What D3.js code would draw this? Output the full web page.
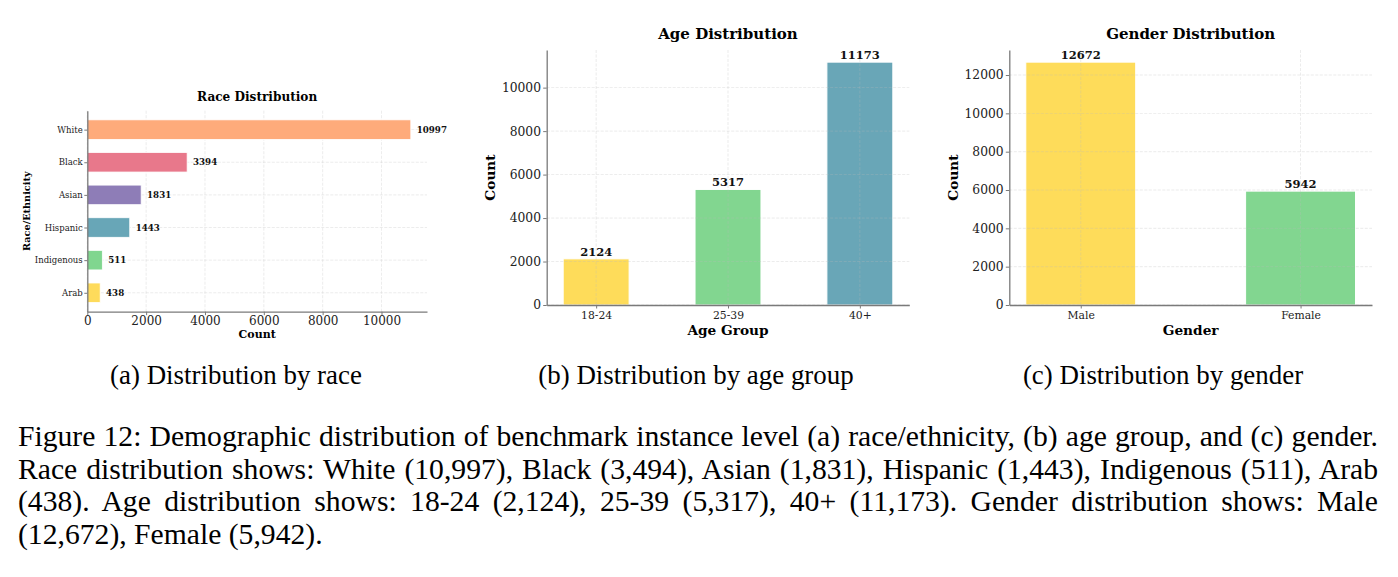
<!DOCTYPE html>
<html>
<head>
<meta charset="utf-8">
<script src="https://cdn.jsdelivr.net/npm/d3@7"></script>
<style>
  body { margin: 0; background: #fff; }
  svg { display: block; }
</style>
</head>
<body>
<script>
// data
const raceCategories = ["White", "Black", "Asian", "Hispanic", "Indigenous", "Arab"]
const raceCounts = [10997, 3394, 1831, 1443, 511, 438]
const raceTicks = [0, 2000, 4000, 6000, 8000, 10000]

const ageGroups = ["18-24", "25-39", "40+"]
const ageCounts = [2124, 5317, 11173]
const ageTicks = [0, 2000, 4000, 6000, 8000, 10000]

const genderCategories = ["Male", "Female"]
const genderCounts = [12672, 5942]
const genderTicks = [0, 2000, 4000, 6000, 8000, 10000, 12000]

// colours
const raceColours = ["#FEAB7B", "#E8788B", "#8E7DB7", "#68A6B7", "#80D68F", "#FEDB5B"]
const ageColours = ["#FEDC5A", "#82D690", "#69A6B7"]
const genderColours = ["#FEDC5A", "#82D690"]

const captionLines = [
  "Figure 12: Demographic distribution of benchmark instance level (a) race/ethnicity, (b) age group, and (c) gender.",
  "Race distribution shows: White (10,997), Black (3,494), Asian (1,831), Hispanic (1,443), Indigenous (511), Arab",
  "(438).  Age distribution shows: 18-24 (2,124), 25-39 (5,317), 40+ (11,173).  Gender distribution shows: Male",
  "(12,672), Female (5,942)."
]
const subCaptions = ["(a) Distribution by race", "(b) Distribution by age group", "(c) Distribution by gender"]

const svg = d3.select("body").append("svg").attr("width", 1398).attr("height", 577)
const serif = "DejaVu Serif"
const times = "'Liberation Serif', 'Times New Roman', serif"
const spine = "#7a7a7a"
const plain = d3.format("d")

// little helper to make axes look like the matplotlib ones
function styleAxis(g, size) {
  g.attr("font-family", serif).attr("font-size", size)
  g.select(".domain").attr("stroke", spine).attr("stroke-width", 1.3)
  g.selectAll(".tick line").attr("stroke", spine).attr("stroke-width", 1)
  g.selectAll(".tick text").attr("fill", "#222")
}

// ---------- (a) race, horizontal bars ----------
const ra = {left: 87.3, right: 427, top: 110.7, bottom: 311.7}
const raceX = d3.scaleLinear().domain([0, d3.max(raceCounts) * 1.05]).range([ra.left, ra.right])
const raceY = d3.scaleLinear().domain([-0.58, raceCategories.length - 1 + 0.58]).range([ra.top, ra.bottom])
const raceG = svg.append("g")

// grid
raceG.selectAll(".vgrid").data(raceTicks).enter().append("line")
  .attr("x1", d => raceX(d)).attr("x2", d => raceX(d)).attr("y1", ra.top).attr("y2", ra.bottom)
  .attr("stroke", "#ccc").attr("stroke-width", 0.7).attr("stroke-dasharray", "3,1.5").attr("opacity", 0.5)
raceG.selectAll(".hgrid").data(raceCategories).enter().append("line")
  .attr("x1", ra.left).attr("x2", ra.right).attr("y1", (d, i) => raceY(i)).attr("y2", (d, i) => raceY(i))
  .attr("stroke", "#ccc").attr("stroke-width", 0.7).attr("stroke-dasharray", "3,1.5").attr("opacity", 0.5)

const bandA = raceY(0.3) - raceY(-0.3)
raceG.selectAll("rect").data(raceCounts).enter().append("rect")
  .attr("x", raceX(0)).attr("y", (d, i) => raceY(i) - bandA / 2)
  .attr("width", d => raceX(d) - raceX(0)).attr("height", bandA)
  .attr("fill", (d, i) => raceColours[i]).attr("stroke", "#fff").attr("stroke-width", 0.8)

raceG.selectAll(".val").data(raceCounts).enter().append("text")
  .attr("x", d => raceX(d + 200)).attr("y", (d, i) => raceY(i)).attr("dy", "0.35em")
  .text(d => d).attr("font-family", serif).attr("font-weight", "bold").attr("font-size", 8.7).attr("fill", "#111")

const raceXAxis = raceG.append("g").attr("transform", `translate(0,${ra.bottom})`)
  .call(d3.axisBottom(raceX).tickValues(raceTicks).tickFormat(plain).tickSize(3.5).tickSizeOuter(0).tickPadding(1))
styleAxis(raceXAxis, 12)
const raceYAxis = raceG.append("g").attr("transform", `translate(${ra.left},0)`)
  .call(d3.axisLeft(raceY).tickValues(d3.range(raceCategories.length)).tickFormat(i => raceCategories[i])
    .tickSize(3).tickSizeOuter(0).tickPadding(1.6))
styleAxis(raceYAxis, 8.5)

raceG.append("text").attr("x", (ra.left + ra.right) / 2).attr("y", 101).attr("text-anchor", "middle")
  .text("Race Distribution").attr("font-family", serif).attr("font-weight", "bold").attr("font-size", 12.1)
raceG.append("text").attr("x", (ra.left + ra.right) / 2).attr("y", 337.5).attr("text-anchor", "middle")
  .text("Count").attr("font-family", serif).attr("font-weight", "bold").attr("font-size", 11)
raceG.append("text").attr("transform", `translate(30,${(ra.top + ra.bottom) / 2}) rotate(-90)`).attr("text-anchor", "middle")
  .text("Race/Ethnicity").attr("font-family", serif).attr("font-weight", "bold").attr("font-size", 9.7)

// ---------- vertical bar panels (b) and (c) ----------
function drawColumns(box, cats, counts, ticks, colours, title, xlabel) {
  const g = svg.append("g")
  const n = cats.length
  const pad = (n - 0.5) * 0.05
  const x = d3.scaleLinear().domain([-0.25 - pad, n - 0.75 + pad]).range([box.left, box.right])
  const y = d3.scaleLinear().domain([0, d3.max(counts) * 1.05]).range([box.bottom, box.top])

  const bw = x(0.5) - x(0)
  g.selectAll("rect").data(counts).enter().append("rect")
    .attr("x", (d, i) => x(i) - bw / 2).attr("y", d => y(d))
    .attr("width", bw).attr("height", d => y(0) - y(d))
    .attr("fill", (d, i) => colours[i]).attr("stroke", "#fff").attr("stroke-width", 1)

  // grid sits over the bars, very faint
  g.selectAll(".hgrid").data(ticks).enter().append("line")
    .attr("x1", box.left).attr("x2", box.right).attr("y1", d => y(d)).attr("y2", d => y(d))
    .attr("stroke", "#bbb").attr("stroke-width", 0.7).attr("stroke-dasharray", "3,1.5").attr("opacity", 0.4)
  g.selectAll(".vgrid").data(cats).enter().append("line")
    .attr("x1", (d, i) => x(i)).attr("x2", (d, i) => x(i)).attr("y1", box.top).attr("y2", box.bottom)
    .attr("stroke", "#bbb").attr("stroke-width", 0.7).attr("stroke-dasharray", "3,1.5").attr("opacity", 0.4)

  g.selectAll(".val").data(counts).enter().append("text")
    .attr("x", (d, i) => x(i)).attr("y", d => y(d) - 3).attr("text-anchor", "middle")
    .text(d => d).attr("font-family", serif).attr("font-weight", "bold").attr("font-size", 11.5).attr("fill", "#111")

  const xa = g.append("g").attr("transform", `translate(0,${box.bottom})`)
    .call(d3.axisBottom(x).tickValues(d3.range(n)).tickFormat(i => cats[i]).tickSize(3.5).tickSizeOuter(0).tickPadding(2.5))
  styleAxis(xa, 10.8)
  const ya = g.append("g").attr("transform", `translate(${box.left},0)`)
    .call(d3.axisLeft(y).tickValues(ticks).tickFormat(plain).tickSize(3.5).tickSizeOuter(0).tickPadding(2.2))
  styleAxis(ya, 12.3)

  const cx = (box.left + box.right) / 2
  g.append("text").attr("x", cx).attr("y", 38.5).attr("text-anchor", "middle")
    .text(title).attr("font-family", serif).attr("font-weight", "bold").attr("font-size", 15)
  g.append("text").attr("x", cx).attr("y", 335).attr("text-anchor", "middle")
    .text(xlabel).attr("font-family", serif).attr("font-weight", "bold").attr("font-size", 13.7)
  g.append("text").attr("transform", `translate(${box.left - 56},${(box.top + box.bottom) / 2}) rotate(-90)`)
    .attr("text-anchor", "middle").attr("dy", "0.35em")
    .text("Count").attr("font-family", serif).attr("font-weight", "bold").attr("font-size", 13.7)
}

drawColumns({left: 546.7, right: 909.3, top: 50, bottom: 305}, ageGroups, ageCounts, ageTicks, ageColours, "Age Distribution", "Age Group")
drawColumns({left: 1009.3, right: 1372, top: 50, bottom: 305}, genderCategories, genderCounts, genderTicks, genderColours, "Gender Distribution", "Gender")

// ---------- captions ----------
const textLeft = 18, textRight = 1378

// pick font sizes from the measured widths: widest justified line nearly fills
// the text width, sub caption (a) is about 252px wide
const probe = svg.append("text").style("font-family", times).style("font-size", "26px")
let widest = 0
captionLines.slice(0, 3).forEach(l => { probe.text(l); widest = Math.max(widest, probe.node().getComputedTextLength()) })
probe.text(subCaptions[0])
const subSize = 26 * 252 / probe.node().getComputedTextLength()
probe.remove()
const capSize = 26 * (textRight - textLeft - 10) / widest

const subX = [236, 696, 1163]
svg.selectAll(".sub").data(subCaptions).enter().append("text")
  .attr("x", (d, i) => subX[i]).attr("y", 383.5).attr("text-anchor", "middle")
  .text(d => d).style("font-family", times).style("font-size", subSize + "px").attr("fill", "#000")

const para = svg.append("g")
captionLines.forEach((line, i) => {
  const t = para.append("text").attr("x", textLeft).attr("y", 446 + i * 32.5)
    .text(line).style("font-family", times).style("font-size", capSize + "px").attr("fill", "#000")
  // justify all but the last line
  if (i < captionLines.length - 1) {
    const natural = t.node().getComputedTextLength()
    const gaps = line.split(/\s+/).length - 1
    t.style("word-spacing", ((textRight - textLeft - natural) / gaps) + "px")
  }
})
</script>
</body>
</html>
